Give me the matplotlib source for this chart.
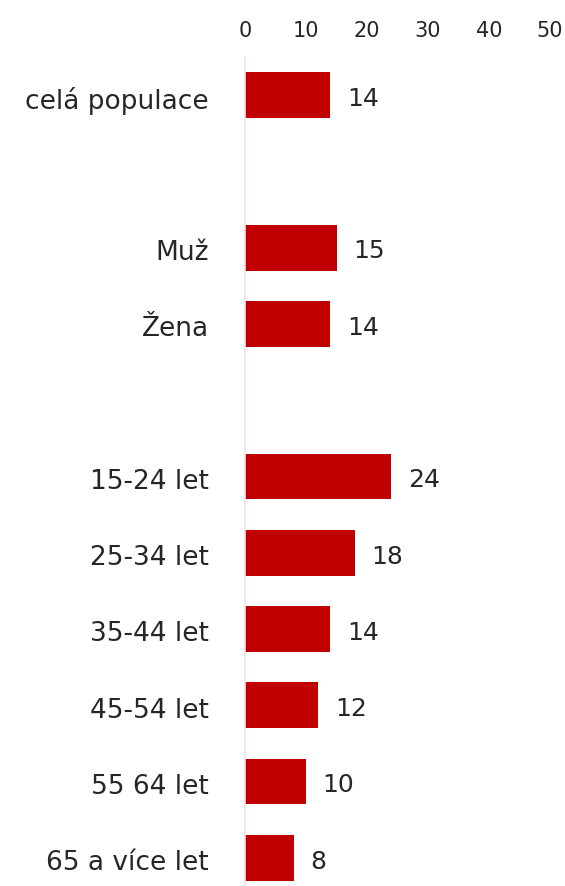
import matplotlib.pyplot as plt
import matplotlib.transforms as mtransforms
import numpy as np

plt.rcParams['font.family'] = ['DejaVu Sans']

# Data (empty strings are spacer rows)
labels = ["celá populace", "", "Muž", "Žena", "",
          "15-24 let", "25-34 let", "35-44 let", "45-54 let", "55 64 let", "65 a více let"]
values = [14, None, 15, 14, None, 24, 18, 14, 12, 10, 8]
xticks = [0, 10, 20, 30, 40, 50]

bar_color = '#c00000'
text_color = '#262626'

fig = plt.figure(figsize=(5.65, 8.87), dpi=100)
ax = fig.add_axes([0.4336, -0.0113, 0.54, 0.9459])

y = np.arange(len(labels))
for yi, v in zip(y, values):
    if v is None:
        continue
    ax.barh(yi, v, height=0.6, color=bar_color)
    ax.annotate(str(v), xy=(v, yi), xytext=(12, -2), textcoords='offset points',
                ha='left', va='center', fontsize=18, color=text_color)

ax.set_ylim(len(labels) - 0.5, -0.5)
ax.set_xlim(0, 50)
ax.set_xticks(xticks)
ax.xaxis.tick_top()
ax.tick_params(axis='x', length=0, labelsize=15, colors=text_color, pad=12)
ax.set_yticks(y)
ax.set_yticklabels(labels)
ax.tick_params(axis='y', length=0, labelsize=19, colors=text_color, pad=26)
# nudge category labels down a little
offset = mtransforms.ScaledTranslation(0, -1 / 72, fig.dpi_scale_trans)
for t in ax.get_yticklabels():
    t.set_transform(t.get_transform() + offset)

for side in ['top', 'right', 'bottom']:
    ax.spines[side].set_visible(False)
ax.spines['left'].set_color('#fbe0dc')
ax.spines['left'].set_linewidth(1.2)

plt.savefig("out.png", dpi=100)
